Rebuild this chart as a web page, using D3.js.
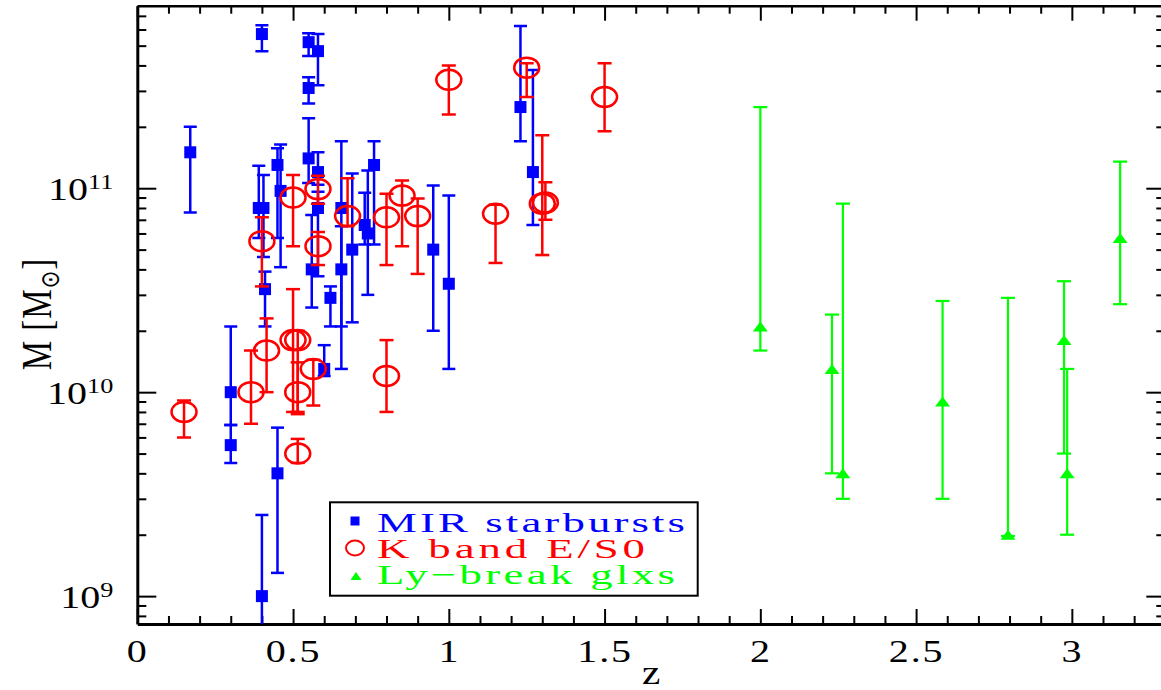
<!DOCTYPE html>
<html>
<head>
<meta charset="utf-8">
<script src="https://cdn.jsdelivr.net/npm/d3@7"></script>
<style>
    body { margin: 0; background: #fff; }
    svg { display: block; }
    text { font-family: "Liberation Serif", "Times New Roman", serif; }
</style>
</head>
<body>
<script>
// ! DATA ! //
// ^ MIR starbursts (blue squares) ^ //
const mirZ = [0.17, 0.40, 0.55, 0.58, 0.55, 0.45, 0.46, 0.39, 0.405, 0.41, 0.30, 0.30, 0.40, 0.45, 0.60, 0.55, 0.58, 0.58, 0.56, 0.655, 0.655, 0.62, 0.69, 0.73, 0.74, 0.76, 0.95, 1.00, 1.23, 1.27];
const mirM = [1.5e11, 5.7e11, 5.2e11, 4.7e11, 3.1e11, 1.3e11, 9.7e10, 8.0e10, 8.0e10, 3.2e10, 1.0e10, 5.5e9, 1.0e9, 4.0e9, 1.3e10, 1.4e11, 1.2e11, 8.0e10, 4.0e10, 8.0e10, 4.0e10, 2.9e10, 5.0e10, 6.6e10, 6.0e10, 1.3e11, 5.0e10, 3.4e10, 2.5e11, 1.2e11];
const mirLo = [7.6e10, 4.7e11, 4.45e11, 3.2e11, 2.6e11, 5.7e10, 4.1e10, 5.7e10, 4.6e10, 2.1e10, 6.9e9, 4.5e9, 5e8, 1.3e9, 1.2e10, 1.06e11, 1.04e11, 3.7e10, 2.6e10, 2.1e10, 1.3e10, 2.1e10, 2.2e10, 5.3e10, 3.0e10, 5.3e10, 2.0e10, 1.3e10, 1.7e11, 6.6e10];
const mirHi = [2.0e11, 6.3e11, 5.75e11, 5.7e11, 3.5e11, 1.57e11, 1.64e11, 1.29e11, 1.16e11, 3.9e10, 2.1e10, 6.9e9, 2.5e9, 6.7e9, 1.7e10, 2.2e11, 1.5e11, 9.6e10, 7.4e10, 1.7e11, 6.5e10, 3.3e10, 1.18e11, 9.5e10, 1.22e11, 1.7e11, 1.03e11, 9.2e10, 6.25e11, 3.8e11];

// ^ K band E/S0 (red circles) ^ //
const kZ = [0.15, 0.365, 0.415, 0.40, 0.50, 0.58, 0.58, 0.675, 0.80, 0.85, 0.90, 1.15, 1.30, 1.31, 1.00, 1.25, 1.50, 0.50, 0.515, 0.515, 0.565, 0.515, 0.80];
const kM = [8.0e9, 1.0e10, 1.6e10, 5.5e10, 9.0e10, 9.9e10, 5.2e10, 7.3e10, 7.2e10, 9.2e10, 7.3e10, 7.5e10, 8.4e10, 8.5e10, 3.4e11, 3.9e11, 2.8e11, 1.8e10, 1.8e10, 1.0e10, 1.3e10, 5.0e9, 1.2e10];
const kLo = [6.0e9, 7.0e9, 1.0e10, 3.3e10, 5.2e10, 8.4e10, 4.2e10, 6.5e10, 4.2e10, 5.2e10, 3.8e10, 4.3e10, 4.7e10, 7.0e10, 2.3e11, 2.8e11, 1.9e11, 8.0e9, 7.8e9, 8.0e9, 8.6e9, 4.5e9, 8.0e9];
const kHi = [9.1e9, 1.6e10, 2.3e10, 7.2e10, 1.16e11, 1.15e11, 6.1e10, 1.12e11, 9.4e10, 1.09e11, 8.9e10, 8.3e10, 1.82e11, 1.07e11, 4.0e11, 4.1e11, 4.1e11, 3.2e10, 2.0e10, 1.4e10, 1.44e10, 5.9e9, 1.8e10];

// ^ Ly-break galaxies (green triangles) ^ //
const lyZ = [2.00, 2.23, 2.265, 2.585, 2.795, 2.975, 2.985, 3.155];
const lyM = [2.1e10, 1.3e10, 4.0e9, 9.0e9, 2.0e9, 1.8e10, 4.0e9, 5.7e10];
const lyLo = [1.6e10, 4.0e9, 3.0e9, 3.0e9, 1.97e9, 5.0e9, 2.0e9, 2.7e10];
const lyHi = [2.5e11, 2.4e10, 8.4e10, 2.8e10, 2.9e10, 3.5e10, 1.3e10, 1.35e11];

// ^ TICKS ^ //
const xTickLabels = [0, 0.5, 1, 1.5, 2, 2.5, 3];
const yTickLabels = [1e9, 1e10, 1e11];

const legendLabels = ["MIR starbursts", "K band E/S0", "Ly\u2212break glxs"];
const colors = ["#0000ff", "#ff0000", "#00ff00"];

// ! LAYOUT ! //
const width = 1161, height = 690;
const plot = { left: 137.3, right: 1165.3, top: 5.7, bottom: 624 };
const stretch = 1.25; // the picture is wider than tall: text and symbols are stretched

const x = d3.scaleLinear().domain([0, 3.3]).range([plot.left, plot.right]);
const y = d3.scaleLog().domain([7.3e8, 7.85e11]).range([plot.bottom, plot.top]);

const xMinor = d3.range(0, 34).map((i) => i / 10).filter((v) => xTickLabels.indexOf(v) < 0);
const yMinor = [];
[8, 9, 10, 11].forEach((e) => {
    for (let k = 2; k <= 9; k++) {
        const v = k * Math.pow(10, e);
        if (v > y.domain()[0] && v < y.domain()[1]) yMinor.push(v);
    }
});

const svg = d3.select("body").append("svg").attr("width", width).attr("height", height);
svg.append("rect").attr("width", width).attr("height", height).attr("fill", "#fff");

svg.append("clipPath").attr("id", "plotclip")
    .append("rect")
    .attr("x", plot.left).attr("y", plot.top)
    .attr("width", plot.right - plot.left).attr("height", plot.bottom - plot.top);

// ! AXES ! //
const styleAxis = (g, lineW) => {
    g.select(".domain").attr("stroke", "#000").attr("stroke-width", lineW);
    g.selectAll(".tick line").attr("stroke", "#000").attr("stroke-width", 2);
};
const minorStyle = (g) => {
    g.select(".domain").remove();
    g.selectAll(".tick line").attr("stroke", "#000").attr("stroke-width", 2);
};

// ^ bottom ^ //
const gBottom = svg.append("g").attr("transform", `translate(0,${plot.bottom})`)
    .call(d3.axisBottom(x).tickValues(xTickLabels).tickSize(-15).tickSizeOuter(0).tickPadding(15).tickFormat((d) => d));
styleAxis(gBottom, 3);
gBottom.selectAll(".tick text")
    .attr("fill", "#000").attr("font-size", 32)
    .attr("font-family", "Liberation Serif, serif")
    .attr("letter-spacing", 1.5)
    .attr("transform", `scale(${stretch},1)`);
svg.append("g").attr("transform", `translate(0,${plot.bottom})`)
    .call(d3.axisBottom(x).tickValues(xMinor).tickSize(-8).tickSizeOuter(0).tickFormat(""))
    .call(minorStyle);

// ^ top ^ //
const gTop = svg.append("g").attr("transform", `translate(0,${plot.top})`)
    .call(d3.axisTop(x).tickValues(xTickLabels).tickSize(-15).tickSizeOuter(0).tickFormat(""));
styleAxis(gTop, 2.5);
svg.append("g").attr("transform", `translate(0,${plot.top})`)
    .call(d3.axisTop(x).tickValues(xMinor).tickSize(-8).tickSizeOuter(0).tickFormat(""))
    .call(minorStyle);

// ^ left ^ //
const gLeft = svg.append("g").attr("transform", `translate(${plot.left},0)`)
    .call(d3.axisLeft(y).tickValues(yTickLabels).tickSize(-19).tickSizeOuter(0).tickPadding(24 / stretch).tickFormat(""));
styleAxis(gLeft, 3);
gLeft.selectAll(".tick text")
    .attr("fill", "#000").attr("font-size", 32)
    .attr("font-family", "Liberation Serif, serif")
    .attr("dy", 11)
    .attr("transform", `scale(${stretch},1)`)
    .each(function (d) {
        const t = d3.select(this);
        t.append("tspan").text("10");
        t.append("tspan").attr("font-size", 21).attr("dy", -11).text(Math.round(Math.log10(d)));
    });
svg.append("g").attr("transform", `translate(${plot.left},0)`)
    .call(d3.axisLeft(y).tickValues(yMinor).tickSize(-9).tickSizeOuter(0).tickFormat(""))
    .call(minorStyle);

// ^ right ^ //
const gRight = svg.append("g").attr("transform", `translate(${plot.right},0)`)
    .call(d3.axisRight(y).tickValues(yTickLabels).tickSize(-19).tickSizeOuter(0).tickFormat(""));
styleAxis(gRight, 3);
svg.append("g").attr("transform", `translate(${plot.right},0)`)
    .call(d3.axisRight(y).tickValues(yMinor).tickSize(-9).tickSizeOuter(0).tickFormat(""))
    .call(minorStyle);

// ^ axis titles ^ //
svg.append("text")
    .attr("transform", `translate(${(plot.left + 1165) / 2},684) scale(${stretch},1)`)
    .attr("text-anchor", "middle").attr("font-size", 33).attr("fill", "#000")
    .text("z");

const yTitle = svg.append("text")
    .attr("transform", `translate(51,314) scale(${stretch},1) rotate(-90)`)
    .attr("text-anchor", "middle").attr("font-size", 33).attr("letter-spacing", 1).attr("fill", "#000");
yTitle.append("tspan").text("M  [M");
yTitle.append("tspan").attr("font-size", 21).attr("dy", 6).attr("font-family", "DejaVu Sans, sans-serif").text("\u2299");
yTitle.append("tspan").attr("dy", -6).text("]");

// ! DATA LAYERS ! //
const plotArea = svg.append("g").attr("clip-path", "url(#plotclip)");

const toRows = (zs, ms, los, his) => zs.map((z, i) => ({ z: z, m: ms[i], lo: los[i], hi: his[i] }));
const mirRows = toRows(mirZ, mirM, mirLo, mirHi);
const kRows = toRows(kZ, kM, kLo, kHi);
const lyRows = toRows(lyZ, lyM, lyLo, lyHi);

const drawErrors = (rows, color, lineW, cap) => {
    const g = plotArea.append("g").attr("stroke", color).attr("stroke-width", lineW).attr("fill", "none");
    const bars = g.selectAll("g").data(rows).enter().append("g");
    bars.append("line")
        .attr("x1", (d) => x(d.z)).attr("x2", (d) => x(d.z))
        .attr("y1", (d) => y(d.hi)).attr("y2", (d) => y(d.lo));
    bars.append("line")
        .attr("x1", (d) => x(d.z) - cap / 2).attr("x2", (d) => x(d.z) + cap / 2)
        .attr("y1", (d) => y(d.hi)).attr("y2", (d) => y(d.hi));
    bars.append("line")
        .attr("x1", (d) => x(d.z) - cap / 2).attr("x2", (d) => x(d.z) + cap / 2)
        .attr("y1", (d) => y(d.lo)).attr("y2", (d) => y(d.lo));
};

const trianglePath = (w, h) => `M${-w / 2},${h / 2}L${w / 2},${h / 2}L0,${-h / 2}Z`;

// ^ blue ^ //
drawErrors(mirRows, colors[0], 2.5, 13);
plotArea.append("g").selectAll("rect").data(mirRows).enter().append("rect")
    .attr("x", (d) => x(d.z) - 6).attr("y", (d) => y(d.m) - 6)
    .attr("width", 12).attr("height", 12)
    .attr("fill", colors[0]);

// ^ red ^ //
drawErrors(kRows, colors[1], 2.5, 14);
plotArea.append("g").selectAll("ellipse").data(kRows).enter().append("ellipse")
    .attr("cx", (d) => x(d.z)).attr("cy", (d) => y(d.m))
    .attr("rx", 12.5).attr("ry", 10)
    .attr("fill", "none").attr("stroke", colors[1]).attr("stroke-width", 2.5);

// ^ green ^ //
drawErrors(lyRows, colors[2], 2.2, 14);
plotArea.append("g").selectAll("path").data(lyRows).enter().append("path")
    .attr("transform", (d) => `translate(${x(d.z)},${y(d.m)})`)
    .attr("d", trianglePath(15, 10))
    .attr("fill", colors[2]);

// ! LEGEND ! //
const legend = svg.append("g").attr("id", "legend");
legend.append("rect")
    .attr("x", 330).attr("y", 502.3).attr("width", 367.7).attr("height", 93.4)
    .attr("fill", "#fff").attr("stroke", "#000").attr("stroke-width", 2);
legend.append("rect").attr("x", 350.5).attr("y", 516.5).attr("width", 9).attr("height", 9).attr("fill", colors[0]);
legend.append("ellipse").attr("cx", 355).attr("cy", 548).attr("rx", 9).attr("ry", 7.5)
    .attr("fill", "none").attr("stroke", colors[1]).attr("stroke-width", 2);
legend.append("path").attr("transform", "translate(356,576)").attr("d", trianglePath(11, 8)).attr("fill", colors[2]);

const legendStretch = 1.6;
const legendBase = [531.7, 558, 584];
const legendWidth = [308, 268, 298];
legendLabels.forEach((label, i) => {
    legend.append("text")
        .attr("transform", `translate(377,${legendBase[i]}) scale(${legendStretch},1)`)
        .attr("font-size", 28).attr("fill", colors[i])
        .attr("textLength", legendWidth[i] / legendStretch).attr("lengthAdjust", "spacing")
        .text(label);
});
</script>
</body>
</html>
